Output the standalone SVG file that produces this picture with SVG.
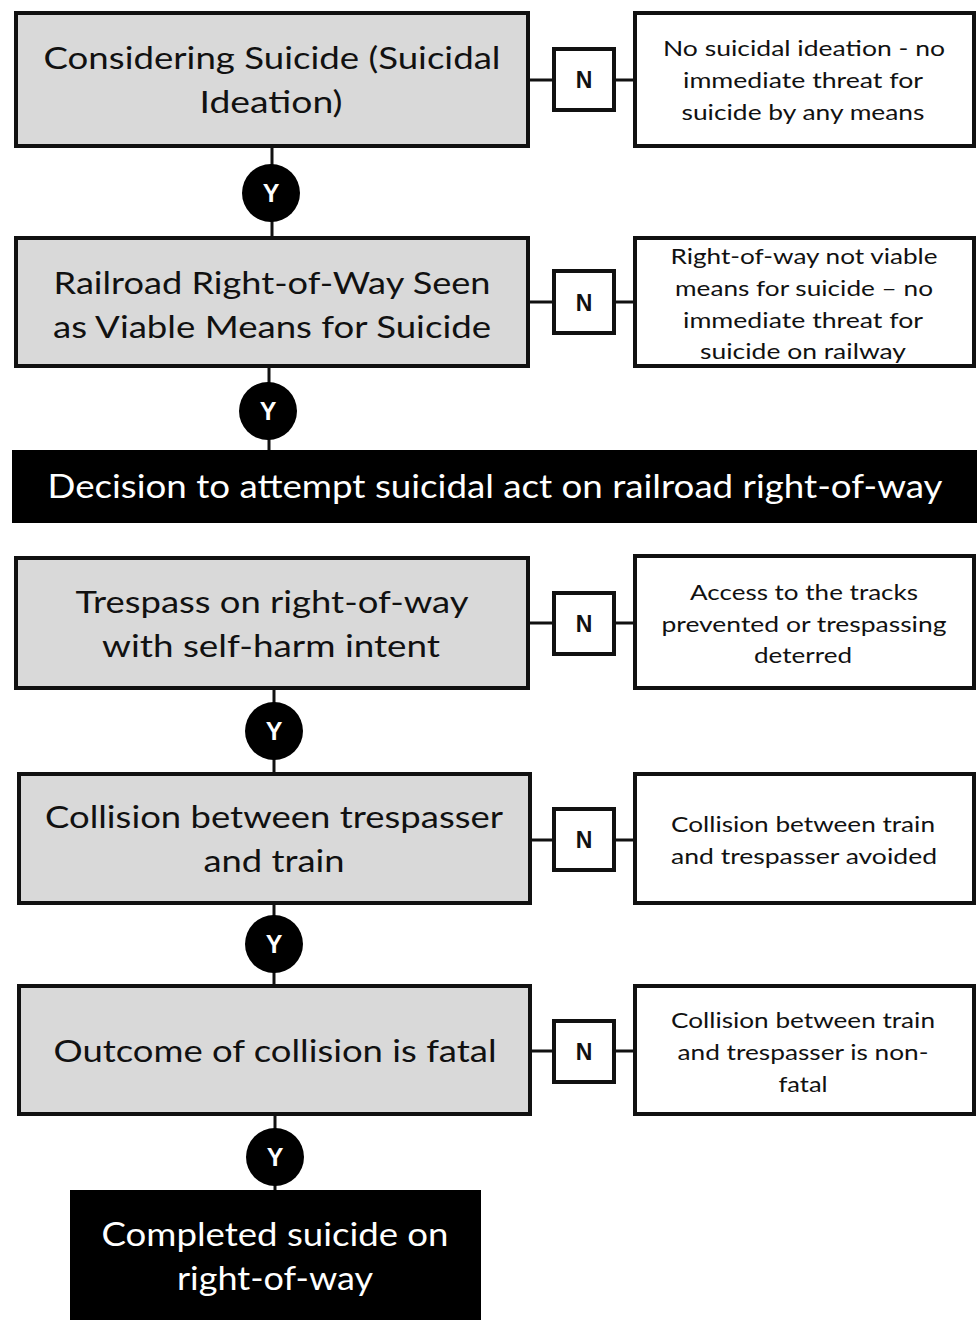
<svg xmlns="http://www.w3.org/2000/svg" width="980" height="1320" viewBox="0 0 980 1320">
<style>
.main{fill:#d9d9d9;stroke:#111;stroke-width:4}
.side{fill:#fff;stroke:#111;stroke-width:4}
.nbox{fill:#fff;stroke:#111;stroke-width:4}
.dark{fill:#000;stroke:#000;stroke-width:2}
.ln{stroke:#111;stroke-width:3;fill:none}
.yc{fill:#000}
.t{font-family:Lato,"Open Sans","Liberation Sans",sans-serif;font-size:31px;fill:#111;text-anchor:middle}
.tw{font-family:Lato,"Open Sans","Liberation Sans",sans-serif;font-size:32px;fill:#fff;text-anchor:middle}
.s{font-family:Lato,"Open Sans","Liberation Sans",sans-serif;font-size:22px;fill:#111;text-anchor:middle}
.n{font-family:"Liberation Sans",Arial,sans-serif;font-size:23px;font-weight:bold;fill:#111;text-anchor:middle}
.y{font-family:"Liberation Sans",Arial,sans-serif;font-size:25px;font-weight:bold;fill:#fff;text-anchor:middle}
</style>
<rect width="980" height="1320" fill="#fff"/>
<g id="connectors">
<line class="ln" x1="272" y1="147" x2="272" y2="237"/>
<line class="ln" x1="269" y1="367" x2="269" y2="450"/>
<line class="ln" x1="274" y1="689" x2="274" y2="773"/>
<line class="ln" x1="274" y1="904" x2="274" y2="985"/>
<line class="ln" x1="275" y1="1115" x2="275" y2="1190"/>
<line class="ln" x1="529" y1="80" x2="634" y2="80"/>
<line class="ln" x1="529" y1="302" x2="634" y2="302"/>
<line class="ln" x1="529" y1="623" x2="634" y2="623"/>
<line class="ln" x1="531" y1="840" x2="634" y2="840"/>
<line class="ln" x1="531" y1="1051" x2="634" y2="1051"/>
</g>
<g id="node1">
<rect class="main" x="16" y="13" width="512" height="133"/>
<text class="t" x="272" y="69" textLength="457" lengthAdjust="spacingAndGlyphs">Considering Suicide (Suicidal</text>
<text class="t" x="271" y="113" textLength="143" lengthAdjust="spacingAndGlyphs">Ideation)</text>
</g>
<g id="n1"><rect class="nbox" x="554" y="49" width="60" height="61"/><text class="n" x="584" y="88">N</text></g>
<g id="side1">
<rect class="side" x="635" y="13" width="339" height="133"/>
<text class="s" x="804" y="56" textLength="282" lengthAdjust="spacingAndGlyphs">No suicidal ideation -  no</text>
<text class="s" x="803" y="88" textLength="240" lengthAdjust="spacingAndGlyphs">immediate threat for</text>
<text class="s" x="803" y="120" textLength="243" lengthAdjust="spacingAndGlyphs">suicide by any means</text>
</g>
<g id="y1"><circle class="yc" cx="271" cy="193" r="29"/><text class="y" x="271" y="202">Y</text></g>
<g id="node2">
<rect class="main" x="16" y="238" width="512" height="128"/>
<text class="t" x="272" y="294" textLength="437" lengthAdjust="spacingAndGlyphs">Railroad Right-of-Way Seen</text>
<text class="t" x="272" y="338" textLength="438" lengthAdjust="spacingAndGlyphs">as Viable Means for Suicide</text>
</g>
<g id="n2"><rect class="nbox" x="554" y="271" width="60" height="62"/><text class="n" x="584" y="311">N</text></g>
<g id="side2">
<rect class="side" x="635" y="238" width="339" height="128"/>
<text class="s" x="804" y="264" textLength="267" lengthAdjust="spacingAndGlyphs">Right-of-way not viable</text>
<text class="s" x="804" y="296" textLength="258" lengthAdjust="spacingAndGlyphs">means for suicide – no</text>
<text class="s" x="803" y="328" textLength="240" lengthAdjust="spacingAndGlyphs">immediate threat for</text>
<text class="s" x="803" y="359" textLength="206" lengthAdjust="spacingAndGlyphs">suicide on railway</text>
</g>
<g id="y2"><circle class="yc" cx="268" cy="411" r="29"/><text class="y" x="268" y="420">Y</text></g>
<g id="decision">
<rect class="dark" x="13" y="451" width="963" height="71"/>
<text class="tw" x="495" y="498" textLength="895" lengthAdjust="spacingAndGlyphs">Decision to attempt suicidal act on railroad right-of-way</text>
</g>
<g id="node3">
<rect class="main" x="16" y="558" width="512" height="130"/>
<text class="t" x="272" y="613" textLength="393" lengthAdjust="spacingAndGlyphs">Trespass on right-of-way</text>
<text class="t" x="271" y="657" textLength="338" lengthAdjust="spacingAndGlyphs">with self-harm intent</text>
</g>
<g id="n3"><rect class="nbox" x="554" y="593" width="60" height="61"/><text class="n" x="584" y="632">N</text></g>
<g id="side3">
<rect class="side" x="635" y="556" width="339" height="132"/>
<text class="s" x="804" y="600" textLength="228" lengthAdjust="spacingAndGlyphs">Access to the tracks</text>
<text class="s" x="804" y="632" textLength="285" lengthAdjust="spacingAndGlyphs">prevented or trespassing</text>
<text class="s" x="803" y="663" textLength="98" lengthAdjust="spacingAndGlyphs">deterred</text>
</g>
<g id="y3"><circle class="yc" cx="274" cy="731" r="29"/><text class="y" x="274" y="740">Y</text></g>
<g id="node4">
<rect class="main" x="19" y="774" width="511" height="129"/>
<text class="t" x="274" y="828" textLength="458" lengthAdjust="spacingAndGlyphs">Collision between trespasser</text>
<text class="t" x="274" y="872" textLength="141" lengthAdjust="spacingAndGlyphs">and train</text>
</g>
<g id="n4"><rect class="nbox" x="554" y="809" width="60" height="61"/><text class="n" x="584" y="848">N</text></g>
<g id="side4">
<rect class="side" x="635" y="774" width="339" height="129"/>
<text class="s" x="803" y="832" textLength="264" lengthAdjust="spacingAndGlyphs">Collision between train</text>
<text class="s" x="804" y="864" textLength="266" lengthAdjust="spacingAndGlyphs">and trespasser  avoided</text>
</g>
<g id="y4"><circle class="yc" cx="274" cy="944" r="29"/><text class="y" x="274" y="953">Y</text></g>
<g id="node5">
<rect class="main" x="19" y="986" width="511" height="128"/>
<text class="t" x="275" y="1062" textLength="443" lengthAdjust="spacingAndGlyphs">Outcome of collision is fatal</text>
</g>
<g id="n5"><rect class="nbox" x="554" y="1021" width="60" height="61"/><text class="n" x="584" y="1060">N</text></g>
<g id="side5">
<rect class="side" x="635" y="986" width="339" height="128"/>
<text class="s" x="803" y="1028" textLength="264" lengthAdjust="spacingAndGlyphs">Collision between train</text>
<text class="s" x="803" y="1060" textLength="251" lengthAdjust="spacingAndGlyphs">and trespasser  is non-</text>
<text class="s" x="803" y="1092" textLength="49" lengthAdjust="spacingAndGlyphs">fatal</text>
</g>
<g id="y5"><circle class="yc" cx="275" cy="1157" r="29"/><text class="y" x="275" y="1166">Y</text></g>
<g id="completed">
<rect class="dark" x="71" y="1191" width="409" height="135"/>
<text class="tw" x="275" y="1246" textLength="347" lengthAdjust="spacingAndGlyphs">Completed suicide on</text>
<text class="tw" x="275" y="1290" textLength="196" lengthAdjust="spacingAndGlyphs">right-of-way</text>
</g>
</svg>
